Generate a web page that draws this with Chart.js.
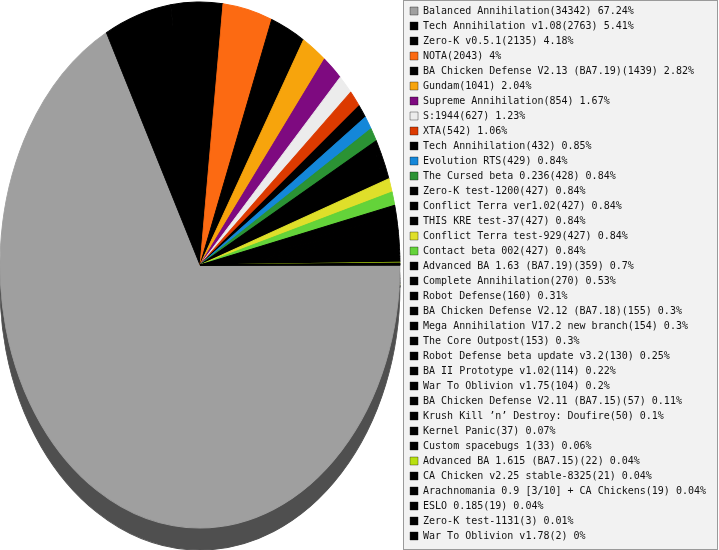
<!DOCTYPE html>
<html>
<head>
<meta charset="utf-8">
<script src="https://cdn.jsdelivr.net/npm/chart.js@4.4.1/dist/chart.umd.min.js"></script>
<style>
    html, body { margin: 0; padding: 0; background: #ffffff; }
    .chart-wrap { width: 719px; height: 550px; position: relative; }
</style>
</head>
<body>
<div class="chart-wrap"><canvas id="modChart"></canvas></div>
<script>
// Data
const modNames = [
    'Balanced Annihilation', 'Tech Annihilation v1.08', 'Zero-K v0.5.1', 'NOTA',
    'BA Chicken Defense V2.13 (BA7.19)', 'Gundam', 'Supreme Annihilation', 'S:1944', 'XTA',
    'Tech Annihilation', 'Evolution RTS', 'The Cursed beta 0.236', 'Zero-K test-1200',
    'Conflict Terra ver1.02', 'THIS KRE test-37', 'Conflict Terra test-929', 'Contact beta 002',
    'Advanced BA 1.63 (BA7.19)', 'Complete Annihilation', 'Robot Defense',
    'BA Chicken Defense V2.12 (BA7.18)', 'Mega Annihilation V17.2 new branch', 'The Core Outpost',
    'Robot Defense beta update v3.2', 'BA II Prototype v1.02', 'War To Oblivion v1.75',
    'BA Chicken Defense V2.11 (BA7.15)', 'Krush Kill \u2019n\u2019 Destroy: Doufire', 'Kernel Panic',
    'Custom spacebugs 1', 'Advanced BA 1.615 (BA7.15)', 'CA Chicken v2.25 stable-8325',
    'Arachnomania 0.9 [3/10] + CA Chickens', 'ESLO 0.185', 'Zero-K test-1131', 'War To Oblivion v1.78'
];
const gameCounts = [
    34342, 2763, 2135, 2043, 1439, 1041, 854, 627, 542,
    432, 429, 428, 427, 427, 427, 427, 427,
    359, 270, 160, 155, 154, 153, 130, 114, 104,
    57, 50, 37, 33, 22, 21, 19, 19, 3, 2
];
const sliceColors = [
    '#9f9f9f', '#000000', '#000000', '#fc6a12', '#000000', '#f7a40c', '#7e0a80', '#ececec', '#dc3a00',
    '#000000', '#1487d9', '#2b9334', '#000000', '#000000', '#000000', '#dfdf2a', '#64d33a',
    '#000000', '#000000', '#000000', '#000000', '#000000', '#000000', '#000000', '#000000', '#000000',
    '#000000', '#000000', '#000000', '#000000', '#b8e010', '#000000', '#000000', '#000000', '#000000', '#000000'
];

const totalGames = gameCounts.reduce((a, b) => a + b, 0);
const legendLabels = modNames.map((name, i) => {
    const pct = Math.round(gameCounts[i] / totalGames * 10000) / 100;
    return `${name}(${gameCounts[i]}) ${pct}%`;
});

// Pie face geometry (flattened like the original 3D pie)
const pieCenter = { x: 200, y: 265 };
const pieRadius = { x: 200, y: 263 };
const pieDepth = 22;

function pieTransform(ctx, arc, dy) {
    const r = arc.outerRadius;
    ctx.translate(pieCenter.x, pieCenter.y + dy);
    ctx.scale(pieRadius.x / r, pieRadius.y / r);
    ctx.translate(-arc.x, -arc.y);
}

const pie3d = {
    id: 'pie3d',
    beforeDraw(chart) {
        // legend panel
        const ctx = chart.ctx;
        const left = Math.round(chart.legend.left - 2.4) + 0.5;
        ctx.save();
        ctx.fillStyle = '#f2f2f2';
        ctx.strokeStyle = '#9a9a9a';
        ctx.lineWidth = 1;
        ctx.fillRect(left, 0.5, chart.width - 1 - left, 549);
        ctx.strokeRect(left, 0.5, chart.width - 1.5 - left, 549);
        ctx.restore();
    },
    beforeDatasetsDraw(chart) {
        const ctx = chart.ctx;
        const arcs = chart.getDatasetMeta(0).data;
        // side of the pie
        ctx.save();
        pieTransform(ctx, arcs[0], pieDepth);
        ctx.filter = 'brightness(0.5)';
        arcs.forEach(arc => arc.draw(ctx));
        ctx.restore();
        // top face, drawn by the controller
        ctx.save();
        pieTransform(ctx, arcs[0], 0);
    },
    afterDatasetsDraw(chart) {
        chart.ctx.restore();
    }
};

// Chart Setup
const ctx = document.getElementById('modChart').getContext('2d');
const modChart = new Chart(ctx, {
    type: 'pie',
    data: {
        labels: legendLabels,
        datasets: [{
            data: gameCounts,
            backgroundColor: sliceColors,
            borderColor: sliceColors,
            borderWidth: 0.8,
            clip: false
        }]
    },
    options: {
        responsive: true,
        maintainAspectRatio: false,
        animation: false,
        rotation: 90,
        events: [],
        layout: { padding: { top: 1, right: 3, bottom: 0, left: 0 } },
        plugins: {
            tooltip: { enabled: false },
            legend: {
                position: 'right',
                align: 'start',
                labels: {
                    boxWidth: 8,
                    boxHeight: 8,
                    padding: 5,
                    color: '#111111',
                    font: { family: 'DejaVu Sans Mono', size: 10 },
                    generateLabels: (chart) => {
                        const ds = chart.data.datasets[0];
                        return chart.data.labels.map((text, i) => ({
                            text: text,
                            fillStyle: ds.backgroundColor[i],
                            strokeStyle: 'rgba(0, 0, 0, 0.35)',
                            lineWidth: 1,
                            fontColor: '#111111',
                            hidden: false,
                            index: i
                        }));
                    }
                }
            }
        }
    },
    plugins: [pie3d]
});
</script>
</body>
</html>
